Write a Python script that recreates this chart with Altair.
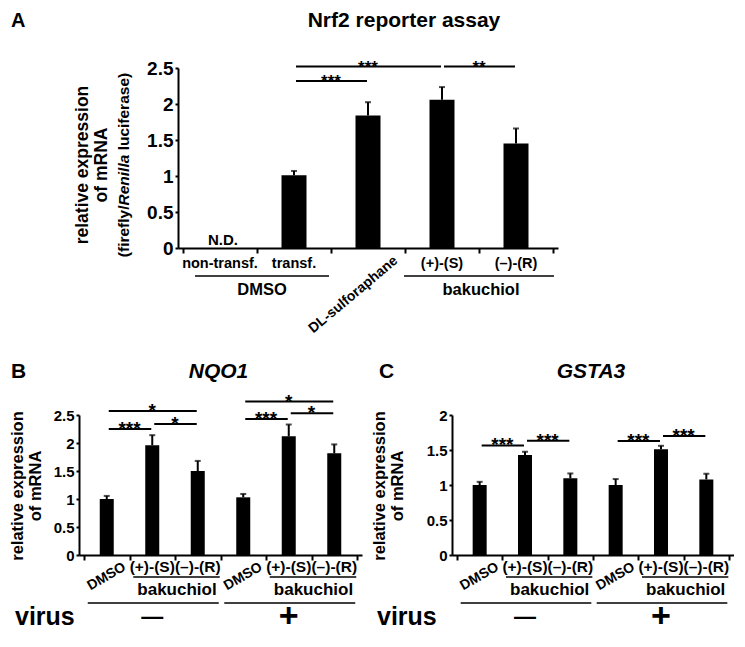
import altair as alt
import pandas as pd

FONT = "Liberation Sans"

# ---------------- data: panel A ----------------
a_title = "Nrf2 reporter assay"
a_letter = "A"
a_categories = ["non-transf.", "transf.", "DL-sulforaphane", "(+)-(S)", "(–)-(R)"]
a_values = [0.0, 1.01, 1.84, 2.06, 1.45]
a_errors = [0.0, 0.06, 0.185, 0.175, 0.21]
a_not_detected = "N.D."
a_sig_from = [1, 1, 3]
a_sig_to = [2, 3, 4]
a_sig_level = [2.32, 2.52, 2.52]
a_sig_label = ["***", "***", "**"]
a_groups = ["DMSO", "bakuchiol"]
a_group_from = [0, 3]
a_group_to = [1, 4]
a_yticks = [0, 0.5, 1, 1.5, 2, 2.5]
a_ytitle = ["relative expression", "of mRNA"]
a_ytitle_sub = ["(firefly/", "Renilla", "luciferase)"]

# ---------------- data: panels B and C ----------------
bc_categories = ["DMSO", "(+)-(S)", "(–)-(R)", "DMSO", "(+)-(S)", "(–)-(R)"]
bc_group_label = "bakuchiol"
bc_group_from = [1, 4]
bc_group_to = [2, 5]
virus_word = "virus"
virus_labels = ["—", "+"]
virus_from = [0, 3]
virus_to = [2, 5]
virus_at = [1, 4]
bc_ytitle = ["relative expression", "of mRNA"]

b_title = "NQO1"
b_letter = "B"
b_values = [1.0, 1.96, 1.50, 1.03, 2.12, 1.815]
b_errors = [0.055, 0.18, 0.18, 0.06, 0.21, 0.16]
b_sig_from = [0, 1, 0, 3, 4, 3]
b_sig_to = [1, 2, 2, 4, 5, 5]
b_sig_level = [2.25, 2.34, 2.57, 2.43, 2.53, 2.74]
b_sig_label = ["***", "*", "*", "***", "*", "*"]
b_yticks = [0, 0.5, 1, 1.5, 2, 2.5]

c_title = "GSTA3"
c_letter = "C"
c_values = [1.0, 1.43, 1.095, 1.0, 1.51, 1.08]
c_errors = [0.045, 0.045, 0.07, 0.085, 0.05, 0.08]
c_sig_from = [0, 1, 3, 4]
c_sig_to = [1, 2, 4, 5]
c_sig_level = [1.565, 1.633, 1.63, 1.70]
c_sig_label = ["***", "***", "***", "***"]
c_yticks = [0, 0.5, 1, 1.5, 2]

# ---------------- layout ----------------
A_W, A_H = 380, 180
B_W, C_W, BC_H = 283, 282, 140
A_SHIFT = 99
BC_GAP = 90
V_GAP = 167

# Arial/Liberation bold advance widths (1/1000 em) for width estimates
_W = {"(": 333, ")": 333, "f": 333, "i": 278, "r": 389, "e": 556, "l": 278, "y": 556,
      "/": 278, " ": 278, "u": 611, "c": 556, "a": 556, "s": 556, "R": 722, "n": 611}


def text_width(s, size):
    return sum(_W.get(ch, 556) for ch in s) * size / 1000.0


def x_axis(n):
    return alt.Axis(values=[k - 0.5 for k in range(n + 1)], labels=False, title=None,
                    grid=False, tickSize=5, tickWidth=2, tickColor="black",
                    domainColor="black", domainWidth=2)


def y_axis(ticks, size, pad):
    return alt.Axis(values=ticks, format="~g", title=None, grid=False, tickSize=3,
                    tickWidth=2, tickColor="black", domainColor="black", domainWidth=2,
                    labelFontSize=size, labelFontWeight="bold", labelColor="black",
                    labelPadding=pad, labelFont=FONT)


def encoders(n, ymax, yticks, ysize, ypad):
    xs = alt.Scale(domain=[-0.5, n - 0.5], nice=False, zero=False)
    ys = alt.Scale(domain=[0, ymax], nice=False)

    def X(f):
        return alt.X(f"{f}:Q", scale=xs, axis=x_axis(n))

    def Y(f):
        return alt.Y(f"{f}:Q", scale=ys, axis=y_axis(yticks, ysize, ypad))
    return X, Y


def text_layer(txt, x, y, **kw):
    return alt.Chart(pd.DataFrame({"t": [txt]})).mark_text(**kw).encode(
        text="t:N", x=alt.value(x), y=alt.value(y))


def bars_layers(df, X, Y, bar_size, cap):
    base = alt.Chart(df)
    bars = base.mark_bar(size=bar_size, color="black").encode(x=X("i"), y=Y("v"))
    err = base.transform_filter("datum.e > 0").mark_rule(color="black", strokeWidth=2).encode(
        x=X("i"), y=Y("v"), y2=alt.Y2("top:Q"))
    caps = base.transform_filter("datum.e > 0").mark_tick(
        color="black", orient="horizontal", size=cap, thickness=2).encode(x=X("i"), y=Y("top"))
    return [bars, err, caps]


def sig_layers(sfrom, sto, slevel, slabel, X, Y, star_size):
    sdf = pd.DataFrame({"a": sfrom, "b": sto, "lvl": slevel, "lab": slabel})
    lines = alt.Chart(sdf).mark_rule(color="black", strokeWidth=2, xOffset=2, x2Offset=-1).encode(
        x=X("a"), x2=alt.X2("b:Q"), y=Y("lvl"))
    stars = alt.Chart(sdf).transform_calculate(mid="(datum.a + datum.b) / 2").mark_text(
        fontSize=star_size, fontWeight="bold", baseline="alphabetic", dy=6, color="black").encode(
        x=X("mid"), y=Y("lvl"), text="lab:N")
    return [lines, stars]


# ---------------- panel A ----------------
nA = len(a_categories)
dfA = pd.DataFrame({"i": list(range(nA)), "cat": a_categories, "v": a_values, "e": a_errors})
dfA["top"] = dfA["v"] + dfA["e"]
XA, YA = encoders(nA, 2.5, a_yticks, 19, 2)

layersA = bars_layers(dfA, XA, YA, 25, 6)
layersA += sig_layers(a_sig_from, a_sig_to, a_sig_level, a_sig_label, XA, YA, 17)

baseA = alt.Chart(dfA)
layersA.append(baseA.transform_filter("datum.e == 0 && datum.v == 0").transform_calculate(
    nd=f"'{a_not_detected}'").mark_text(fontSize=15, fontWeight="bold", baseline="middle",
                                          xOffset=3).encode(
    x=XA("i"), y=alt.value(A_H - 8), text="nd:N"))
layersA.append(baseA.transform_filter("datum.i != 2").mark_text(
    fontSize=14.5, fontWeight="bold", baseline="middle").encode(
    x=XA("i"), y=alt.value(A_H + 16), text="cat:N"))
layersA.append(baseA.transform_filter("datum.i == 2").mark_text(
    fontSize=14, fontWeight="bold", baseline="middle", align="right", angle=320, xOffset=28).encode(
    x=XA("i"), y=alt.value(A_H + 11), text="cat:N"))

gA = pd.DataFrame({"a": a_group_from, "b": a_group_to, "lab": a_groups})
for k, (o1, o2, dxl) in enumerate([(-25, 35, 5), (-38, 38, 2)]):
    gk = alt.Chart(gA).transform_filter(f"datum.lab == '{a_groups[k]}'")
    layersA.append(gk.mark_rule(color="black", strokeWidth=1.5, xOffset=o1, x2Offset=o2).encode(
        x=XA("a"), x2=alt.X2("b:Q"), y=alt.value(A_H + 28)))
    layersA.append(gk.transform_calculate(mid="(datum.a + datum.b) / 2").mark_text(
        fontSize=16.5, fontWeight="bold", baseline="middle", xOffset=dxl).encode(
        x=XA("mid"), y=alt.value(A_H + 42), text="lab:N"))

layersA.append(text_layer(a_title, 226, -47, fontSize=21, fontWeight="bold", baseline="middle"))
layersA.append(text_layer(a_letter, -167, -47, fontSize=20, fontWeight="bold", baseline="middle",
                          align="left"))
yc = A_H / 2 + 7
layersA.append(text_layer(a_ytitle[0], -95, yc, fontSize=17.5, fontWeight="bold", angle=270,
                          baseline="middle"))
layersA.append(text_layer(a_ytitle[1], -76, yc, fontSize=17.5, fontWeight="bold", angle=270,
                          baseline="middle"))
sub_size = 15.5
w0 = text_width(a_ytitle_sub[0], sub_size)
w1 = text_width(a_ytitle_sub[1], sub_size)
w2 = text_width(" " + a_ytitle_sub[2], sub_size)
tot = w0 + w1 + w2
ren_bottom = yc + tot / 2 - w0
ren_top = ren_bottom - w1
sp = text_width(" ", sub_size)
layersA.append(text_layer(a_ytitle_sub[0], -54, ren_bottom, fontSize=sub_size, fontWeight="bold",
                          angle=270, baseline="middle", align="right"))
layersA.append(text_layer(a_ytitle_sub[1], -54, ren_bottom, fontSize=sub_size, fontWeight="bold",
                          fontStyle="italic", angle=270, baseline="middle", align="left"))
layersA.append(text_layer(a_ytitle_sub[2], -54, ren_top - sp, fontSize=sub_size, fontWeight="bold",
                          angle=270, baseline="middle", align="left"))

chartA = alt.layer(*layersA).properties(width=A_W, height=A_H)


# ---------------- panels B and C ----------------
def panel_bc(values, errors, sfrom, sto, slevel, slabel, ymax, yticks, title, letter, W, H,
             ytx, virus_x, letter_x):
    n = len(bc_categories)
    df = pd.DataFrame({"i": list(range(n)), "cat": bc_categories, "v": values, "e": errors})
    df["top"] = df["v"] + df["e"]
    X, Y = encoders(n, ymax, yticks, 15, 2)
    layers = bars_layers(df, X, Y, 14, 6)
    layers += sig_layers(sfrom, sto, slevel, slabel, X, Y, 19)
    base = alt.Chart(df)
    layers.append(base.transform_filter("datum.cat != 'DMSO'").mark_text(
        fontSize=15.5, fontWeight="bold", baseline="middle").encode(
        x=X("i"), y=alt.value(H + 12), text="cat:N"))
    layers.append(base.transform_filter("datum.cat == 'DMSO'").mark_text(
        fontSize=14, fontWeight="bold", baseline="middle", align="right", angle=330,
        xOffset=18).encode(x=X("i"), y=alt.value(H + 11), text="cat:N"))
    g = pd.DataFrame({"a": bc_group_from, "b": bc_group_to, "lab": [bc_group_label] * 2})
    layers.append(alt.Chart(g).mark_rule(color="black", strokeWidth=1.5, xOffset=-19,
                                         x2Offset=22).encode(
        x=X("a"), x2=alt.X2("b:Q"), y=alt.value(H + 22)))
    layers.append(alt.Chart(g).transform_calculate(mid="(datum.a + datum.b) / 2").mark_text(
        fontSize=17, fontWeight="bold", baseline="middle", xOffset=2).encode(
        x=X("mid"), y=alt.value(H + 35), text="lab:N"))
    vg = pd.DataFrame({"a": virus_from, "b": virus_to})
    layers.append(alt.Chart(vg).mark_rule(color="black", strokeWidth=1.5, xOffset=-19,
                                          x2Offset=21).encode(
        x=X("a"), x2=alt.X2("b:Q"), y=alt.value(H + 48)))
    vl = pd.DataFrame({"i": virus_at, "lab": virus_labels})
    layers.append(alt.Chart(vl).transform_filter("datum.lab != '+'").mark_text(
        fontSize=22, fontWeight="bold", baseline="middle").encode(
        x=X("i"), y=alt.value(H + 62), text="lab:N"))
    layers.append(alt.Chart(vl).transform_filter("datum.lab == '+'").mark_text(
        fontSize=34, fontWeight="bold", baseline="middle").encode(
        x=X("i"), y=alt.value(H + 62), text="lab:N"))
    layers.append(text_layer(virus_word, virus_x, H + 62, fontSize=25, fontWeight="bold",
                             baseline="middle", align="left"))
    layers.append(text_layer(title, W / 2 - 2, -37, fontSize=21, fontWeight="bold",
                             fontStyle="italic", baseline="alphabetic"))
    layers.append(text_layer(letter, letter_x, -37, fontSize=21, fontWeight="bold",
                             baseline="alphabetic", align="left"))
    layers.append(text_layer(bc_ytitle[0], ytx[0], H / 2 + 1, fontSize=16.5, fontWeight="bold",
                             angle=270, baseline="middle"))
    layers.append(text_layer(bc_ytitle[1], ytx[1], H / 2 + 1, fontSize=16.5, fontWeight="bold",
                             angle=270, baseline="middle"))
    return alt.layer(*layers).properties(width=W, height=H)


chartB = panel_bc(b_values, b_errors, b_sig_from, b_sig_to, b_sig_level, b_sig_label, 2.5,
                  b_yticks, b_title, b_letter, B_W, BC_H, (-61, -43), -64, -68)
chartC = panel_bc(c_values, c_errors, c_sig_from, c_sig_to, c_sig_level, c_sig_label, 2.0,
                  c_yticks, c_title, c_letter, C_W, BC_H, (-72, -54), -75, -73)

spacer = alt.Chart(pd.DataFrame({"t": [""]})).mark_text().encode(text="t:N").properties(
    width=A_SHIFT, height=10)

top = alt.hconcat(spacer, chartA, spacing=0, bounds="flush")
bottom = alt.hconcat(chartB, chartC, spacing=BC_GAP, bounds="flush")
# with flush bounds the nested row counts as zero height, so the gap includes A's height
chart = alt.vconcat(top, bottom, spacing=A_H + V_GAP, bounds="flush").properties(
    padding={"left": 2, "top": 2, "right": 0, "bottom": 0}).configure(
    font=FONT, view=alt.ViewConfig(stroke=None))

chart.save("out.html", embed_options={"renderer": "svg", "actions": False})
